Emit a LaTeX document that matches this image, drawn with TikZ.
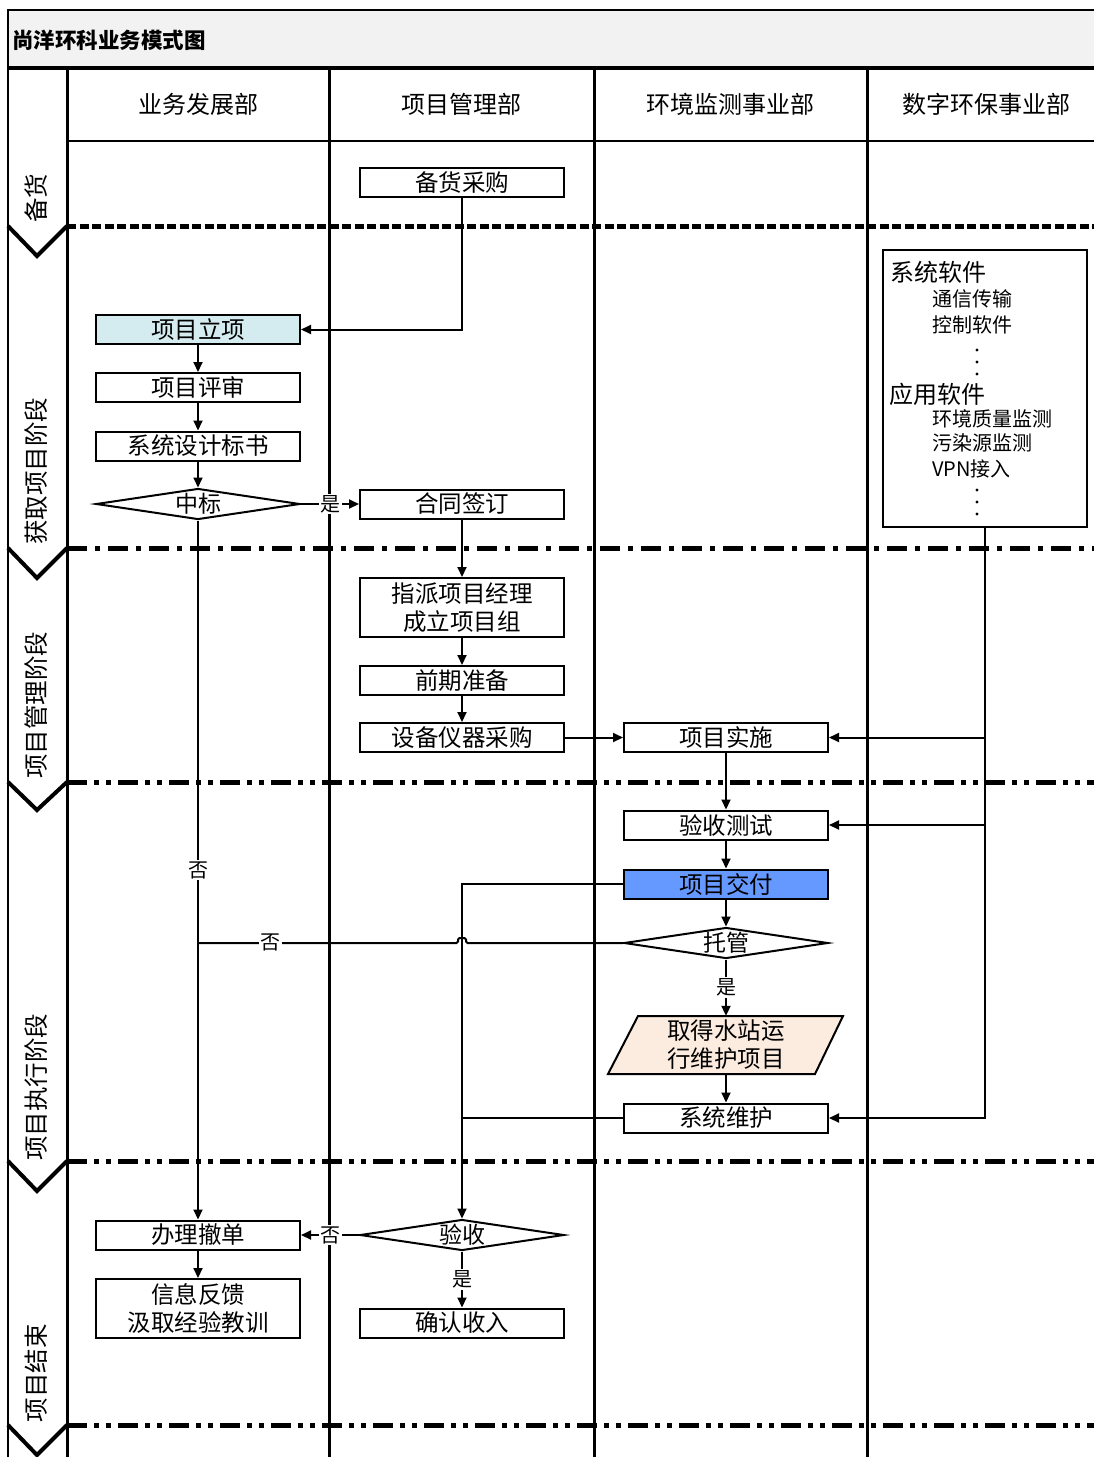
\documentclass[tikz,border=0pt]{standalone}
\usepackage{fontspec}
\setmainfont{Noto Sans CJK SC}
\usetikzlibrary{arrows.meta,shapes.geometric}
\definecolor{titlebg}{HTML}{F2F2F2}
\definecolor{lblue}{HTML}{D4EBF0}
\definecolor{mblue}{HTML}{6699FF}
\definecolor{peach}{HTML}{FCEBDF}
\begin{document}
\begin{tikzpicture}[x=1pt,y=-1pt,
 box/.style={draw,line width=2pt,fill=white,minimum width=204pt,minimum height=29pt,inner sep=0pt,font=\fontsize{23.5}{28}\selectfont,align=center},
 dia/.style={diamond,draw,line width=2pt,fill=white,minimum width=204pt,minimum height=31pt,inner sep=0pt,aspect=6.6,font=\fontsize{23}{26}\selectfont},
 conn/.style={line width=2pt,-{Triangle[length=10pt,width=9pt]}},
 plain/.style={line width=2pt},
 lbl/.style={fill=white,inner sep=1.5pt,font=\fontsize{20}{24}\selectfont},
 lane/.style={line width=3pt},
 hdr/.style={font=\fontsize{24}{28}\selectfont},
 stage/.style={rotate=90,font=\fontsize{24.5}{28}\selectfont},
 chev/.style={line width=4pt,line join=miter},
 sepdash/.style={line width=5pt,dash pattern=on 9pt off 3.5pt},
 sepdd/.style={line width=5pt,dash pattern=on 20pt off 8pt on 5pt off 8pt},
 sepddd/.style={line width=5pt,dash pattern=on 20pt off 7pt on 5pt off 7pt on 5pt off 7pt},
 swhead/.style={anchor=west,inner sep=0pt,font=\fontsize{24}{28}\selectfont},
 switem/.style={anchor=west,inner sep=0pt,font=\fontsize{20}{24}\selectfont},
 swdot/.style={fill=black}
]
\useasboundingbox (0,0) rectangle (1094,1457);
% title band
\fill[titlebg] (8,10) rectangle (1094,68);
\draw[line width=2.5pt] (1094,10) -- (8,10) -- (8,1457);
\draw[line width=4pt] (8,68) -- (1094,68);
\node[anchor=west,inner sep=0pt,font=\fontsize{21.5}{24}\selectfont\bfseries] (title) at (12,40) {尚洋环科业务模式图};
% lanes
\draw[lane] (67,68) -- (67,1457);
\draw[lane] (329,68) -- (329,1457);
\draw[lane] (594,68) -- (594,1457);
\draw[lane] (867,68) -- (867,1457);
\draw[line width=2.5pt] (67,141) -- (1094,141);
\node[hdr] (h1) at (198,104) {业务发展部};
\node[hdr] (h2) at (461,104) {项目管理部};
\node[hdr] (h3) at (730,104) {环境监测事业部};
\node[hdr] (h4) at (986,104) {数字环保事业部};
% separators
\draw[sepdash] (67,226) -- (1094,226);
\draw[sepdd] (67,548) -- (1094,548);
\draw[sepddd] (67,782) -- (1094,782);
\draw[sepddd] (67,1161) -- (1094,1161);
\draw[sepddd] (67,1425) -- (1094,1425);
% chevrons
\draw[chev] (8,226) -- (37,256) -- (67,226);
\draw[chev] (8,548) -- (37,578) -- (67,548);
\draw[chev] (8,782) -- (37,810) -- (67,782);
\draw[chev] (8,1161) -- (37,1191) -- (67,1161);
\draw[chev] (8,1425) -- (37,1455) -- (67,1425);
% stage labels
\node[stage] (s1) at (36,198) {备货};
\node[stage] (s2) at (36,471) {获取项目阶段};
\node[stage] (s3) at (36,705) {项目管理阶段};
\node[stage] (s4) at (36,1087) {项目执行阶段};
\node[stage] (s5) at (36,1373) {项目结束};
% software box
\node[draw,line width=2pt,fill=white,minimum width=204pt,minimum height=277pt,inner sep=0pt] (sw) at (985,388.5) {};
\node[swhead] (t1) at (890,272) {系统软件};
\node[switem] (t2) at (932,299) {通信传输};
\node[switem] (t3) at (932,325) {控制软件};
\fill[swdot] (977,350) circle (1.6pt) (977,362) circle (1.6pt) (977,374) circle (1.6pt);
\node[swhead] (t5) at (889,394) {应用软件};
\node[switem] (t6) at (932,419) {环境质量监测};
\node[switem] (t7) at (932,443) {污染源监测};
\node[switem] (t8) at (932,469) {VPN接入};
\fill[swdot] (977,490) circle (1.6pt) (977,502) circle (1.6pt) (977,514) circle (1.6pt);
% junction coordinates
\coordinate (b1) at (985,737.5);
\coordinate (b2) at (985,825);
\coordinate (j2) at (462,1118);
\coordinate (j3) at (198,943);
% nodes
\node[box] (bh) at (462,182.5) {备货采购};
\node[box,fill=lblue] (lx) at (198,329.5) {项目立项};
\node[box] (ps) at (198,387.5) {项目评审};
\node[box] (bs) at (198,446) {系统设计标书};
\node[dia] (zb) at (198,504) {中标};
\node[box] (ht) at (462,504) {合同签订};
\node[box,minimum height=59pt] (zp) at (462,607.5) {指派项目经理\\成立项目组};
\node[box] (qq) at (462,680.5) {前期准备};
\node[box] (sb) at (462,737.5) {设备仪器采购};
\node[box] (ss) at (726,737.5) {项目实施};
\node[box] (cs) at (726,825) {验收测试};
\node[box,fill=mblue] (jf) at (726,884) {项目交付};
\node[dia] (tg) at (726,943) {托管};
\fill[peach] (638,1016) -- (843,1016) -- (815,1074) -- (608,1074) -- cycle;
\draw[line width=2pt,line join=miter] (638,1016) -- (843,1016) -- (815,1074) -- (608,1074) -- cycle;
\node[minimum width=204pt,minimum height=58pt,inner sep=0pt,align=center,font=\fontsize{23.5}{28}\selectfont] (qd) at (726,1045) {取得水站运\\行维护项目};
\node[box] (wh) at (726,1118) {系统维护};
\node[dia] (ys) at (462,1235) {验收};
\node[box] (qr) at (462,1323) {确认收入};
\node[box] (cd) at (198,1235) {办理撤单};
\node[box,minimum height=59pt] (xx) at (198,1308.5) {信息反馈\\汲取经验教训};
% connectors
\draw[conn] (bh.south) |- (lx.east);
\draw[conn] (lx) -- (ps);
\draw[conn] (ps) -- (bs);
\draw[conn] (bs) -- (zb);
\draw[conn] (zb.east) -- node[lbl]{是} (ht.west);
\draw[conn] (zb.south) -- node[lbl,pos=0.5]{否} (cd.north);
\draw[conn] (ht) -- (zp);
\draw[conn] (zp) -- (qq);
\draw[conn] (qq) -- (sb);
\draw[conn] (sb.east) -- (ss.west);
\draw[conn] (ss) -- (cs);
\draw[conn] (cs) -- (jf);
\draw[conn] (jf) -- (tg);
\draw[conn] (tg.south) -- node[lbl]{是} (qd.north);
\draw[conn] (qd.south) -- (wh.north);
\draw[conn] (jf.west) -| (ys.north);
\draw[plain] (wh.west) -- (j2);
\draw[plain,rounded corners=1.5pt] (tg.west) -- (466,943) -- (466,938) -- (458,938) -- (458,943) -- (j3);
\node[lbl] (no2) at (270,942) {否};
\draw[conn] (sw.south) |- (wh.east);
\draw[conn] (b1) -- (ss.east);
\draw[conn] (b2) -- (cs.east);
\draw[conn] (ys.west) -- node[lbl]{否} (cd.east);
\draw[conn] (ys.south) -- node[lbl]{是} (qr.north);
\draw[conn] (cd) -- (xx);
\end{tikzpicture}
\end{document}
